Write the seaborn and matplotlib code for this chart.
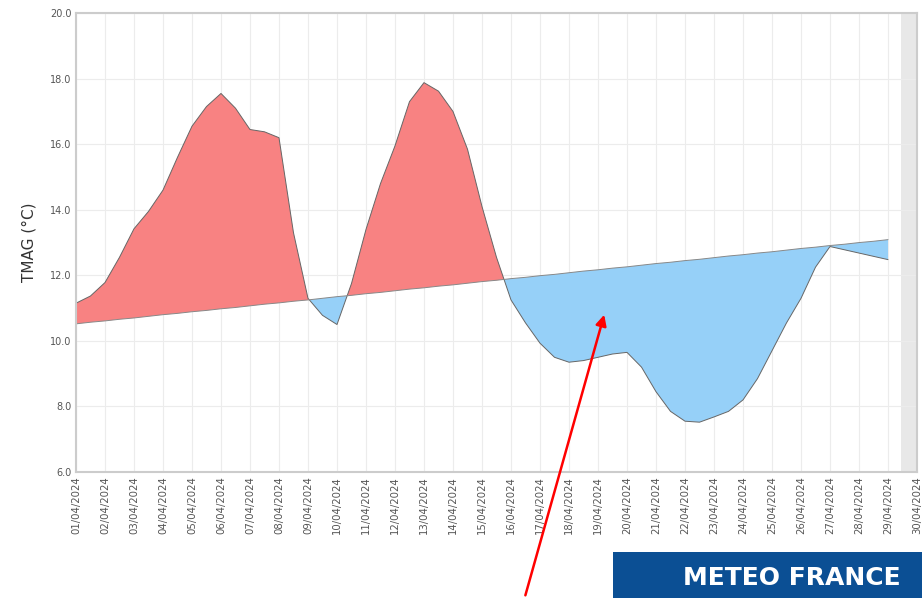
import numpy as np
import pandas as pd
import seaborn as sns
import matplotlib.pyplot as plt
from matplotlib.patches import Rectangle

# observed TMAG, read every half day (day 1 = 01/04/2024)
days = [1.0, 1.5, 2.0, 2.5, 3.0, 3.5, 4.0, 4.5, 5.0, 5.5, 6.0, 6.5, 7.0, 7.5, 8.0, 8.5,
        9.0, 9.5, 10.0, 10.5, 11.0, 11.5, 12.0, 12.5, 13.0, 13.5, 14.0, 14.5, 15.0, 15.5,
        16.0, 16.5, 17.0, 17.5, 18.0, 18.5, 19.0, 19.5, 20.0, 20.5, 21.0, 21.5, 22.0, 22.5,
        23.0, 23.5, 24.0, 24.5, 25.0, 25.5, 26.0, 26.5, 27.0, 27.5, 28.0, 28.5, 29.0]
tmag = [11.15, 11.37, 11.78, 12.55, 13.42, 13.95, 14.6, 15.6, 16.55, 17.15, 17.55, 17.1,
        16.45, 16.38, 16.2, 13.3, 11.3, 10.78, 10.5, 11.75, 13.4, 14.8, 15.95, 17.3, 17.88,
        17.62, 17.0, 15.85, 14.1, 12.55, 11.25, 10.55, 9.93, 9.5, 9.35, 9.4, 9.5, 9.6, 9.65,
        9.2, 8.45, 7.85, 7.55, 7.52, 7.68, 7.85, 8.2, 8.85, 9.7, 10.55, 11.3, 12.25, 12.88,
        12.78, 12.68, 12.58, 12.48]
# normale (straight climatological line)
normale = [10.52, 10.57, 10.61, 10.66, 10.70, 10.75, 10.80, 10.84, 10.89, 10.93, 10.98,
           11.02, 11.07, 11.12, 11.16, 11.21, 11.25, 11.30, 11.35, 11.39, 11.44, 11.48,
           11.53, 11.58, 11.62, 11.67, 11.71, 11.76, 11.81, 11.85, 11.90, 11.94, 11.99,
           12.03, 12.08, 12.13, 12.17, 12.22, 12.26, 12.31, 12.36, 12.40, 12.45, 12.49,
           12.54, 12.59, 12.63, 12.68, 12.72, 12.77, 12.82, 12.86, 12.91, 12.95, 13.00,
           13.04, 13.09]

tick_days = list(range(1, 31))
tick_labels = [d.strftime("%d/%m/%Y") for d in pd.date_range("2024-04-01", periods=30)]
y_ticks = [6, 8, 10, 12, 14, 16, 18, 20]

df = pd.DataFrame({"jour": days, "tmag": tmag, "normale": normale})

sns.set_style("whitegrid", {"grid.color": "#ececec", "axes.edgecolor": "#cccccc"})
fig = plt.figure(figsize=(9.22, 5.98), dpi=100)
ax = fig.add_axes([0.0824, 0.2107, 0.9122, 0.7673])

x = df["jour"].values
obs = df["tmag"].values
nor = df["normale"].values
ax.fill_between(x, obs, nor, where=obs >= nor, interpolate=True, color="#f88282", lw=0)
ax.fill_between(x, obs, nor, where=obs <= nor, interpolate=True, color="#96d0f8", lw=0)
sns.lineplot(data=df, x="jour", y="tmag", ax=ax, color="#666666", lw=0.7)
sns.lineplot(data=df, x="jour", y="normale", ax=ax, color="#888888", lw=0.7)
ax.axvspan(29.45, 30, color="#e8e8e8", lw=0, zorder=0)

ax.set_xlim(1, 30)
ax.set_ylim(6, 20)
ax.set_xticks(tick_days)
ax.set_xticklabels(tick_labels, rotation=90, fontsize=7.3, color="#555555")
ax.set_yticks(y_ticks)
ax.set_yticklabels([f"{v:.1f}" for v in y_ticks], fontsize=7, color="#555555")
ax.tick_params(axis="both", length=0, pad=3)
ax.set_xlabel("")
ax.set_ylabel("TMAG (°C)", fontsize=11, color="#333333", labelpad=10)
for s in ax.spines.values():
    s.set_linewidth(1.5)
    s.set_color("#cccccc")

# red arrow pointing into the blue area
ax.annotate("", xy=(19.24, 10.88), xytext=(0.569, 0.0), xycoords="data",
            textcoords="figure fraction", annotation_clip=False,
            arrowprops=dict(arrowstyle="-|>", color="red", lw=1.8, mutation_scale=16))

# banner
fig.patches.append(Rectangle((0.665, 0.0), 0.335, 0.077, transform=fig.transFigure,
                             facecolor="#0b4f94", edgecolor="none"))
fig.text(0.859, 0.034, "METEO FRANCE", color="white", fontsize=18, fontweight="bold",
         ha="center", va="center")

fig.savefig("out.png", dpi=100)
